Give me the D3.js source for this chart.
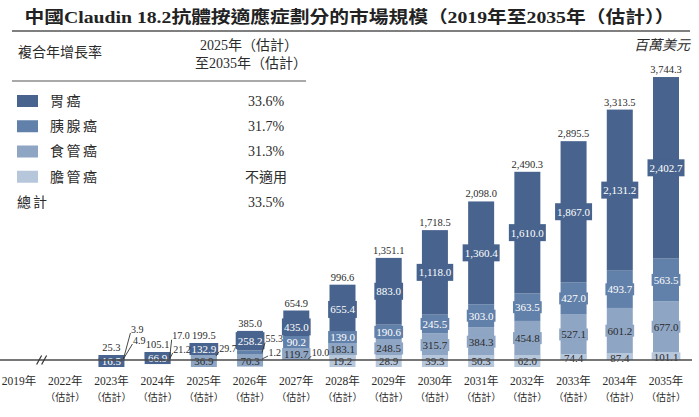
<!DOCTYPE html>
<html>
<head>
<meta charset="utf-8">
<script src="https://cdn.jsdelivr.net/npm/d3@7"></script>
<style>
  body { margin: 0; background: #fff; }
  svg text { font-family: "Liberation Serif", "Noto Sans CJK TC", serif; fill: #2b2b2b; }
</style>
</head>
<body>
<div id="chart"></div>
<script>
const years = ["2019年", "2022年", "2023年", "2024年", "2025年", "2026年", "2027年", "2028年",
               "2029年", "2030年", "2031年", "2032年", "2033年", "2034年", "2035年"];
const estimated = [false, true, true, true, true, true, true, true, true, true, true, true, true, true, true];
const seriesNames = ["胃癌", "胰腺癌", "食管癌", "膽管癌"];
const seriesCagr = ["33.6%", "31.7%", "31.3%", "不適用"];
const totalCagr = "33.5%";
const stomach    = [null, null, 16.5, 66.9, 132.9, 258.2, 435.0, 655.4, 883.0, 1118.0, 1360.4, 1610.0, 1867.0, 2131.2, 2402.7];
const pancreatic = [null, null, 3.9, 17.0, 29.7, 55.3, 90.2, 139.0, 190.6, 245.5, 303.0, 363.5, 427.0, 493.7, 563.5];
const esophageal = [null, null, 4.9, 21.2, 36.9, 70.3, 119.7, 183.1, 248.5, 315.7, 384.3, 454.8, 527.1, 601.2, 677.0];
const biliary    = [null, null, 0, 0, 0, 1.2, 10.0, 19.2, 28.9, 39.3, 50.3, 62.0, 74.4, 87.4, 101.1];
const totals     = [null, null, 25.3, 105.1, 199.5, 385.0, 654.9, 996.6, 1351.1, 1718.5, 2098.0, 2490.3, 2895.5, 3313.5, 3744.3];

const colors = ["#48648e", "#6281aa", "#8ea5c4", "#b7c7db"];
const labelInk = ["#fff", "#fff", "#2b2b2b", "#2b2b2b"];

// segments too thin for text: label sits at end of a leader line (offset from bar edge)
const callouts = [
  { year: "2023年", s: 1, dx: 7, dy: -26 },
  { year: "2023年", s: 2, dx: 9, dy: -15 },
  { year: "2024年", s: 1, dx: 2, dy: -18 },
  { year: "2024年", s: 2, dx: 3, dy: -6 },
  { year: "2025年", s: 1, dx: 3, dy: -4 },
  { year: "2026年", s: 1, dx: 3, dy: -10 },
  { year: "2026年", s: 3, dx: 6, dy: -3 },
  { year: "2027年", s: 3, dx: 3, dy: -3 }
];

const series = [stomach, pancreatic, esophageal, biliary];
const W = 699, H = 417;
const fmt = d3.format(",.1f");

const svg = d3.select("#chart").append("svg")
  .attr("width", W).attr("height", H);

// ---- title ----
const title = svg.append("text")
  .attr("x", W / 2).attr("y", 23)
  .attr("text-anchor", "middle")
  .style("font-size", "17px").style("font-weight", "bold").style("fill", "#222")
  .text("中國Claudin 18.2抗體按適應症劃分的市場規模（2019年至2035年（估計））");
const tw = title.node().getComputedTextLength();
if (Math.abs(tw - 650) > 8) title.attr("textLength", 650).attr("lengthAdjust", "spacingAndGlyphs");

svg.append("line").attr("x1", 12).attr("x2", 690).attr("y1", 31).attr("y2", 31)
  .attr("stroke", "#555").attr("stroke-width", 1.5);

// ---- CAGR table ----
svg.append("text").attr("x", 18).attr("y", 52).attr("dy", "0.35em")
  .style("font-size", "14px").text("複合年增長率");
svg.append("text").attr("x", 249).attr("y", 45).attr("dy", "0.35em").attr("text-anchor", "middle")
  .style("font-size", "14px").text("2025年（估計）");
svg.append("text").attr("x", 251).attr("y", 63).attr("dy", "0.35em").attr("text-anchor", "middle")
  .style("font-size", "14px").text("至2035年（估計）");
svg.append("text").attr("x", 690).attr("y", 45).attr("dy", "0.35em").attr("text-anchor", "end")
  .style("font-size", "14px").style("font-style", "italic").text("百萬美元");
svg.append("line").attr("x1", 12).attr("x2", 306).attr("y1", 81).attr("y2", 81)
  .attr("stroke", "#555").attr("stroke-width", 1.2);

const legend = svg.append("g");
const rowY = d3.scalePoint().domain(d3.range(5)).range([101, 202]);
seriesNames.forEach((name, k) => {
  legend.append("rect").attr("x", 17).attr("y", rowY(k) - 6).attr("width", 21).attr("height", 12)
    .attr("fill", colors[k]);
  legend.append("text").attr("x", 50).attr("y", rowY(k)).attr("dy", "0.35em")
    .style("font-size", "14px").style("letter-spacing", "2.5px").text(name);
  legend.append("text").attr("x", 266).attr("y", rowY(k)).attr("dy", "0.35em").attr("text-anchor", "middle")
    .style("font-size", "14px").text(seriesCagr[k]);
});
legend.append("text").attr("x", 17).attr("y", rowY(4)).attr("dy", "0.35em")
  .style("font-size", "14px").style("letter-spacing", "2px").text("總計");
legend.append("text").attr("x", 266).attr("y", rowY(4)).attr("dy", "0.35em").attr("text-anchor", "middle")
  .style("font-size", "14px").text(totalCagr);

// ---- scales ----
const x = d3.scalePoint().domain(years).range([19, 666]);
const y = d3.scaleLinear().domain([0, 4000]).range([360, 57.7]);
const base = y(0);
const barW = 26;
const boxH = 12;

const bars = svg.append("g");
const labels = svg.append("g");
const tops = svg.append("g");

years.forEach((yr, i) => {
  if (totals[i] == null) return;
  const cx = x(yr);
  let acc = 0;
  // stack from the bottom: biliary, esophageal, pancreatic, stomach
  const segs = [];
  [3, 2, 1, 0].forEach(k => {
    const v = series[k][i];
    const bot = y(acc), top = y(acc + v);
    acc += v;
    segs[k] = { k, v, top, bot, h: bot - top };
  });

  [3, 2, 1, 0].forEach(k => {
    const s = segs[k];
    if (!s.v) return;
    bars.append("rect").attr("x", cx - barW / 2).attr("width", barW)
      .attr("y", s.top).attr("height", s.h).attr("fill", colors[k]);
  });

  let ceiling = base;
  let first = true;
  [3, 2, 1, 0].forEach(k => {
    const s = segs[k];
    if (!s.v) return;
    const co = callouts.find(c => c.year === yr && c.s === k);
    if (co) {
      const ax = cx + barW / 2 - 1;
      const ay = Math.min((s.top + s.bot) / 2, base - 1);
      const ex = ax + co.dx, ey = ay + co.dy;
      tops.append("line").attr("x1", ax).attr("y1", ay).attr("x2", ex).attr("y2", ey)
        .attr("stroke", "#333").attr("stroke-width", 0.9);
      tops.append("text").attr("x", ex + 0.5).attr("y", ey - 4).attr("dy", "0.35em")
        .style("font-size", "10px").text(fmt(s.v));
      return;
    }
    const t = labels.append("text").attr("x", cx).attr("text-anchor", "middle")
      .style("font-size", "11px").style("fill", labelInk[k]).text(fmt(s.v));
    const w = Math.max(barW, t.node().getComputedTextLength() + 4);
    const h = k === 0 ? Math.min(17, Math.max(boxH, s.h)) : boxH;
    let bTop, bH = h, ty;
    if (first && s.h < 5.5) {
      bTop = Math.min(s.top, base - 5);
      ty = bTop + bH / 2;
    } else if (k === 3) {
      bTop = s.top; bH = s.h;
      ty = (s.top + s.bot) / 2 + 1;
    } else {
      bTop = Math.min((s.top + s.bot) / 2 - h / 2, base - h, ceiling - h);
      ty = bTop + h / 2;
    }
    labels.insert("rect", "text").attr("x", cx - w / 2).attr("width", w)
      .attr("y", bTop).attr("height", bH).attr("fill", colors[k]);
    t.attr("y", ty).attr("dy", "0.36em");
    ceiling = Math.min(bTop, ty - 6);
    first = false;
  });

  const topEdge = Math.min(y(totals[i]), ceiling);
  tops.append("text").attr("x", cx).attr("y", topEdge - 4).attr("text-anchor", "middle")
    .style("font-size", "10.5px").text(fmt(totals[i]));
});

// ---- baseline with break mark ----
const axis = svg.append("g");
axis.append("line").attr("x1", 0).attr("x2", 692).attr("y1", base).attr("y2", base)
  .attr("stroke", "#4a4a4a").attr("stroke-width", 1.6);
const bx = (x(years[0]) + x(years[1])) / 2;
[-3, 2].forEach(o => {
  axis.append("line").attr("x1", bx + o - 2.5).attr("y1", base + 4.5)
    .attr("x2", bx + o + 2.5).attr("y2", base - 4.5)
    .attr("stroke", "#333").attr("stroke-width", 1.2);
});

// ---- category labels ----
const xl = svg.append("g");
years.forEach((yr, i) => {
  xl.append("text").attr("x", x(yr)).attr("y", 381).attr("dy", "0.35em").attr("text-anchor", "middle")
    .style("font-size", "11.5px").text(yr);
  if (estimated[i]) {
    xl.append("text").attr("x", x(yr)).attr("y", 397).attr("dy", "0.35em").attr("text-anchor", "middle")
      .style("font-size", "10px").text("（估計）");
  }
});
</script>
</body>
</html>
